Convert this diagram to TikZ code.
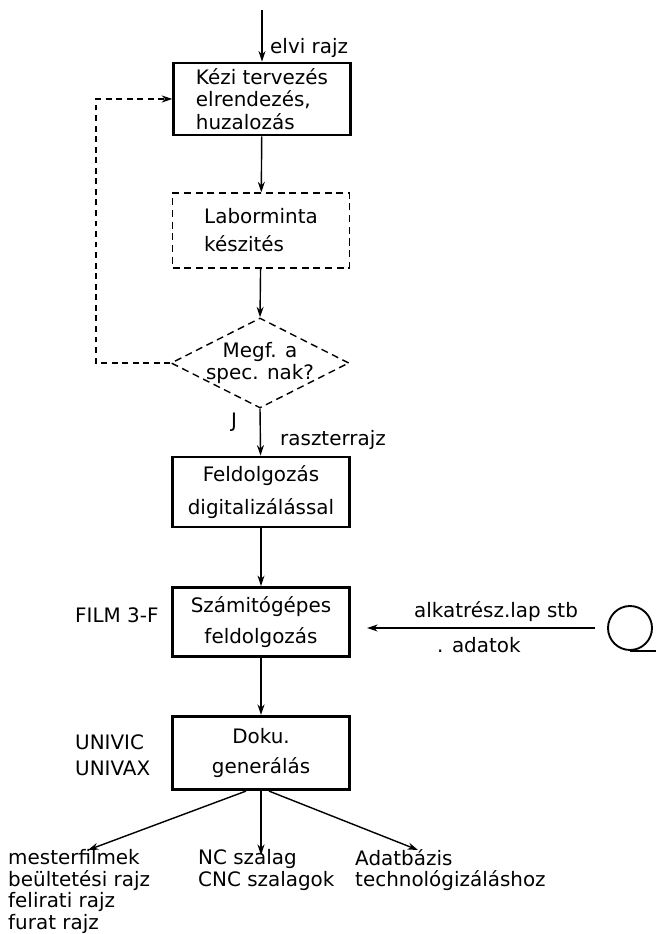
\documentclass[tikz,border=0pt]{standalone}
\usepackage{fontspec}
\setmainfont{DejaVu Sans}
\usetikzlibrary{shapes,arrows.meta,positioning,calc}

\begin{document}
\begin{tikzpicture}[x=0.03cm, y=-0.03cm, >={Stealth[length=9pt,width=6pt]},
        every node/.style={font=\fontsize{17}{19}\selectfont},
        box/.style={draw, line width=2.4pt, minimum width=5.3cm, inner sep=3pt},
        labbox/.style={draw, line width=1.2pt, dash pattern=on 6pt off 4pt, minimum width=5.3cm, inner sep=3pt},
        decide/.style={draw, diamond, line width=1.2pt, dash pattern=on 6pt off 4pt, aspect=2, inner sep=-6pt,
            minimum width=5.34cm, minimum height=2.7cm, align=center},
        flow/.style={->, line width=1.2pt},
        fb/.style={->, line width=1pt, dash pattern=on 5pt off 4pt},
        side/.style={anchor=west, inner sep=0pt},
        outtext/.style={anchor=north west, align=left, inner sep=0pt,
            font=\fontsize{17}{18.5}\selectfont}]
        \useasboundingbox (0,0) rectangle (660,934);

        % main chain of boxes
        \node[box, minimum height=2.16cm, align=left] (kezi) at (262,99) {K\'ezi tervez\'es\\ elrendez\'es,\\ huzaloz\'as};
        \node[labbox, minimum height=2.25cm, align=left] (labor) at (261,230.5) {Laborminta\\[5pt]k\'eszit\'es};
        \node[decide] (spec) at (260,363) {Megf. a\\spec. nak?};
        \node[box, minimum height=2.1cm, align=center] (feld) at (261,492) {Feldolgoz\'as\\[9pt]digitaliz\'al\'assal};
        \node[box, minimum height=2.07cm, align=center] (szam) at (261,622) {Sz\'amit\'og\'epes\\[7pt]feldolgoz\'as};
        \node[box, minimum height=2.2cm, align=center] (doku) at (261,753) {Doku.\\[7pt]gener\'al\'as};

        % input on top
        \coordinate (in) at (262,10);
        \draw[flow] (in) -- (kezi.north);
        \node[side] (elvi) at (270,48) {elvi rajz};

        \draw[flow] (kezi) -- (labor);
        \draw[flow] (labor) -- (spec.north);
        \draw[flow] (spec.south) -- (feld);
        \draw[flow] (feld) -- (szam);
        \draw[flow] (szam) -- (doku);

        % feedback loop
        \coordinate (fbx) at (96,363);
        \draw[fb] (spec.west) -- (fbx) |- (kezi.west);

        \node[side] (jel) at (231,422) {J};
        \node[side] (raszter) at (280,440) {raszterrajz};

        % system names
        \node[side] (film) at (75,615) {FILM 3-F};
        \node[side] (univic) at (75,742) {UNIVIC};
        \node[side] (univax) at (75,768) {UNIVAX};

        % tape input
        \node[draw, circle, line width=1.6pt, minimum size=1.32cm, inner sep=0pt] (tape) at (630,628) {};
        \draw[line width=1.6pt] (tape.south) -- ++(26,0);
        \draw[flow, shorten <=10pt, shorten >=14pt] (tape.west) -- (tape.west -| szam.east);
        \node[side] (alkat) at (414,612) {alkatr\'esz.lap stb};
        \node[side] (adatok) at (437,645) {. adatok};

        % outputs
        \coordinate (tL) at (88,850);
        \coordinate (tM) at (261,855);
        \coordinate (tR) at (418,850);
        \draw[flow] ($(doku.south)+(-15,0)$) -- (tL);
        \draw[flow] (doku.south) -- (tM);
        \draw[flow] ($(doku.south)+(8,0)$) -- (tR);

        \node[outtext] (mester) at (8,849) {mesterfilmek\\be\"ultet\'esi rajz\\felirati rajz\\furat rajz};
        \node[outtext] (ncsz) at (198,849) {NC szalag\\CNC szalagok};
        \node[outtext] (adatb) at (355,849) {Adatb\'azis\\technol\'ogiz\'al\'ashoz};
\end{tikzpicture}
\end{document}
